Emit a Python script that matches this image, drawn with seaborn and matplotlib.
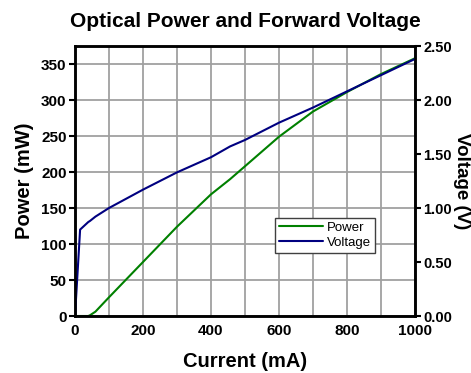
import numpy as np
import pandas as pd
import matplotlib
matplotlib.use("Agg")
import matplotlib.pyplot as plt
import seaborn as sns

# values
current_ma = [0, 15, 39, 44, 60, 100, 200, 300, 400, 456, 500, 600, 700, 800, 900, 1000]
power_mw = [0, 0, 0, 1, 6, 26, 75, 124, 169, 190, 208, 249, 284, 311, 336, 358]
voltage_v = [0, 0.80, 0.87, 0.88, 0.92, 1.00, 1.17, 1.33, 1.47, 1.57, 1.63, 1.79, 1.93, 2.08, 2.23, 2.38]

df = pd.DataFrame({"current": current_ma, "power": power_mw, "voltage": voltage_v})

sns.set_style("white")
plt.rcParams["font.family"] = ["Liberation Sans", "DejaVu Sans"]
plt.rcParams.update({"text.color": "black", "axes.labelcolor": "black",
                     "xtick.color": "black", "ytick.color": "black"})

fig = plt.figure(figsize=(4.71, 3.73), dpi=100)
ax = fig.add_axes([75 / 471, 1 - 316 / 373, 340 / 471, 270 / 373])
ax2 = ax.twinx()

sns.lineplot(data=df, x="current", y="power", ax=ax, color="#008000", lw=1.5, label="Power", legend=False)
sns.lineplot(data=df, x="current", y="voltage", ax=ax2, color="#000080", lw=1.5, label="Voltage", legend=False)

ax.set_xlim(0, 1000)
ax.set_ylim(0, 375)
ax2.set_ylim(0, 2.5)

ax.set_xticks(np.arange(0, 1001, 200))
ax.set_xticks(np.arange(100, 1000, 200), minor=True)
ax.set_yticks(np.arange(0, 351, 50))
ax2.set_yticks(np.arange(0, 2.51, 0.5))
ax2.set_yticklabels([f"{v:.2f}" for v in np.arange(0, 2.51, 0.5)])

ax.grid(True, which="both", color="#a0a0a0", lw=1.3)
ax.set_axisbelow(True)

for a in (ax, ax2):
    for s in a.spines.values():
        s.set_linewidth(1.8)
        s.set_color("black")
    a.tick_params(which="both", direction="out", length=4, width=1.5, labelsize=11, pad=2)
    for lab in a.get_xticklabels() + a.get_yticklabels():
        lab.set_fontweight("bold")
ax.tick_params(which="minor", length=3)
ax.tick_params(axis="x", top=False)
ax2.tick_params(left=False, right=True, labelsize=10.5)

ax.set_xlabel("Current (mA)", fontsize=14.5, fontweight="bold", labelpad=10)
ax.set_ylabel("Power (mW)", fontsize=14.5, fontweight="bold", labelpad=5)
ax2.set_ylabel("Voltage (V)", fontsize=13.5, fontweight="bold", rotation=270, labelpad=13)
ax.set_title("Optical Power and Forward Voltage", fontsize=15, fontweight="bold", pad=14)

h1, l1 = ax.get_legend_handles_labels()
h2, l2 = ax2.get_legend_handles_labels()
leg = ax2.legend(h1 + h2, l1 + l2, loc="lower left", bbox_to_anchor=(0.57, 0.21), fontsize=9.5,
                 frameon=True, fancybox=False, framealpha=1, edgecolor="#404040",
                 handlelength=3.3, handletextpad=0.3, borderpad=0.3, labelspacing=0.2)
leg.get_frame().set_linewidth(1.0)

fig.savefig("out.png", dpi=100)
